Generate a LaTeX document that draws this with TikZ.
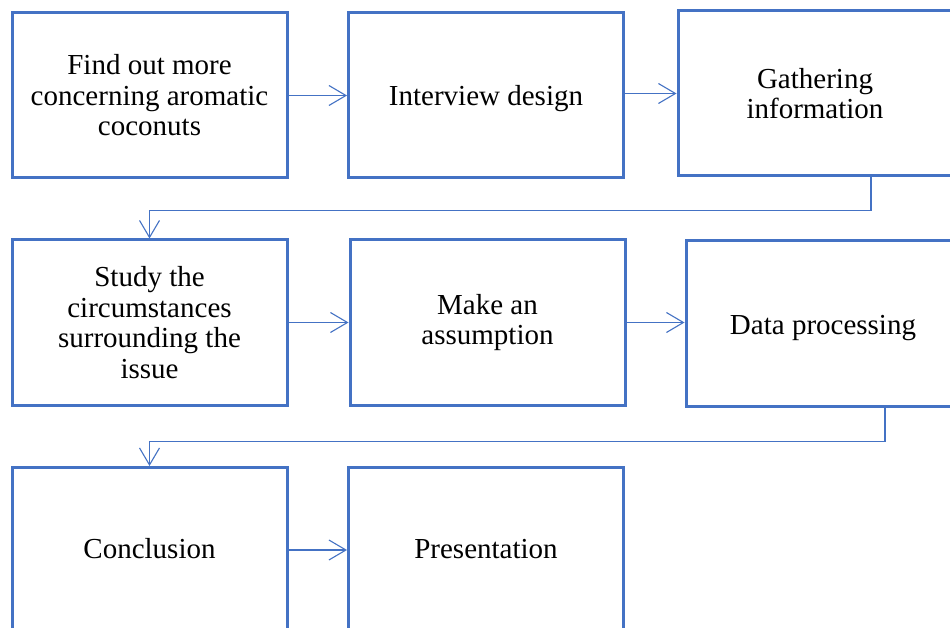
\documentclass[tikz,border=0pt]{standalone}
\usepackage{fontspec}
\setmainfont{Liberation Serif}
\usetikzlibrary{arrows.meta,calc}
\definecolor{boxblue}{HTML}{4472C4}
\begin{document}
\begin{tikzpicture}[x=1pt,y=-1pt,
  stepbox/.style={draw=boxblue,line width=3pt,minimum width=275pt,minimum height=165pt,
    inner sep=0pt,align=center,font=\fontsize{29}{30.5}\selectfont,text=black},
  oneline/.style={text height=21pt,text depth=#1},
  conn/.style={draw=boxblue,line width=1.1pt,-{Straight Barb[length=17pt,width=20pt,line width=1.1pt]}}]
\clip (0,0) rectangle (950,628);
\fill[white] (0,0) rectangle (950,628);
\node[stepbox] (b1) at (149.5,95.5) {Find out more\\concerning aromatic\\coconuts};
\node[stepbox,oneline=0pt] (b2) at (486,95.5) {Interview design};
\node[stepbox,minimum width=274pt] (b3) at (815,93.5) {Gathering\\information};
\node[stepbox] (b4) at (149.5,322.5) {Study the\\circumstances\\surrounding the\\issue};
\node[stepbox] (b5) at (487.5,322.5) {Make an\\assumption};
\node[stepbox,minimum width=274pt,oneline=0pt] (b6) at (823,323.5) {Data processing};
\node[stepbox,oneline=4pt] (b7) at (149.5,550) {Conclusion};
\node[stepbox,oneline=4pt] (b8) at (486,550) {Presentation};
\draw[conn] (b1.east) -- (b2.west);
\draw[conn] (b2.east |- b3.west) -- (b3.west);
\draw[conn] ([xshift=56pt]b3.south) -- ++(0,33) -| (b4.north);
\draw[conn] (b4.east) -- (b5.west);
\draw[conn] (b5.east) -- (b5.east -| b6.west);
\draw[conn] ([xshift=62pt]b6.south) -- ++(0,34) -| (b7.north);
\draw[conn] (b7.east) -- (b8.west);
\end{tikzpicture}
\end{document}
